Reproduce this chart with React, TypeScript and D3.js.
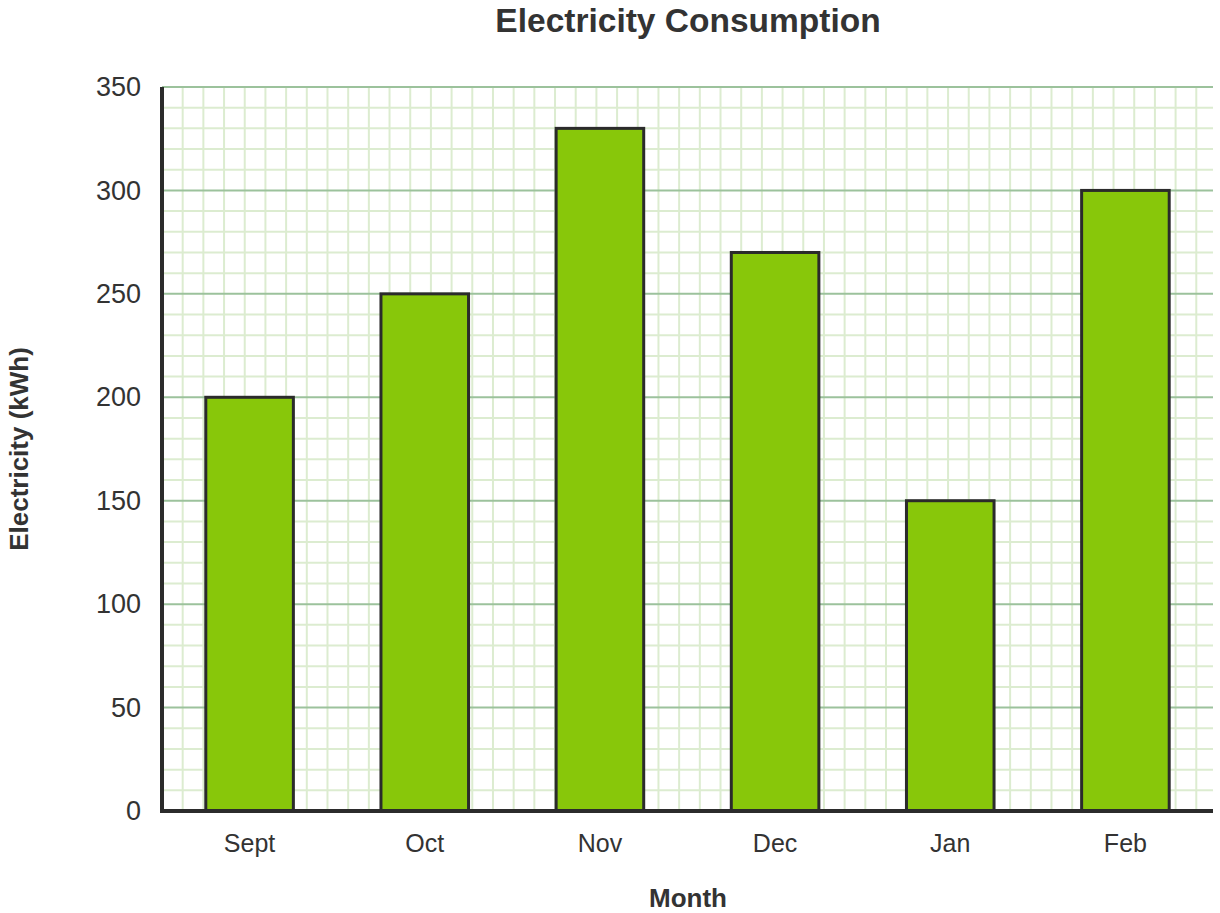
import React, { useEffect, useRef } from "react";
import * as d3 from "d3";

// data
const months: string[] = ["Sept", "Oct", "Nov", "Dec", "Jan", "Feb"];
const consumption: number[] = [200, 250, 330, 270, 150, 300];
const yTicks: number[] = [0, 50, 100, 150, 200, 250, 300, 350];

const WIDTH = 1220;
const HEIGHT = 913;
const FONT = "'Liberation Sans', Arial, Helvetica, sans-serif";

const App: React.FC = () => {
  const svgRef = useRef<SVGSVGElement | null>(null);

  useEffect(() => {
    const margin = { top: 87, right: 7, bottom: 102, left: 162 };
    const innerW = WIDTH - margin.left - margin.right;
    const innerH = HEIGHT - margin.top - margin.bottom;

    const svg = d3.select(svgRef.current);
    svg.selectAll("*").remove();
    svg.attr("width", WIDTH).attr("height", HEIGHT);

    const x = d3
      .scaleBand<string>()
      .domain(months)
      .range([0, innerW])
      .paddingInner(0.5)
      .paddingOuter(0.25);

    const y = d3.scaleLinear().domain([0, 350]).range([innerH, 0]);

    const g = svg
      .append("g")
      .attr("transform", `translate(${margin.left}, ${margin.top})`);

    // minor grid (every 10 kWh, square cells)
    const minorTicks = d3.range(0, 351, 10).filter((v) => v % 50 !== 0);
    const cell = y(0) - y(10);
    const xGrid = d3.range(cell, innerW - cell / 2, cell);

    g.append("g")
      .selectAll("line")
      .data(xGrid)
      .enter()
      .append("line")
      .attr("x1", (d) => d)
      .attr("x2", (d) => d)
      .attr("y1", 0)
      .attr("y2", innerH)
      .attr("stroke", "#dcecd0")
      .attr("stroke-width", 2);

    g.append("g")
      .selectAll("line")
      .data(minorTicks)
      .enter()
      .append("line")
      .attr("x1", 0)
      .attr("x2", innerW)
      .attr("y1", (d) => y(d))
      .attr("y2", (d) => y(d))
      .attr("stroke", "#dcecd0")
      .attr("stroke-width", 2);

    // major grid
    g.append("g")
      .selectAll("line")
      .data(yTicks.filter((v) => v > 0))
      .enter()
      .append("line")
      .attr("x1", 0)
      .attr("x2", innerW)
      .attr("y1", (d) => y(d))
      .attr("y2", (d) => y(d))
      .attr("stroke", "#9cc29c")
      .attr("stroke-width", 2);

    // bars
    g.append("g")
      .selectAll("rect")
      .data(consumption)
      .enter()
      .append("rect")
      .attr("x", (_, i) => x(months[i])!)
      .attr("y", (d) => y(d))
      .attr("width", x.bandwidth())
      .attr("height", (d) => innerH - y(d))
      .attr("fill", "#88c70a")
      .attr("stroke", "#2b2b2b")
      .attr("stroke-width", 3);

    // y axis
    const yAxis = g
      .append("g")
      .call(d3.axisLeft(y).tickValues(yTicks).tickSize(0).tickPadding(21));
    yAxis.select(".domain").remove();
    yAxis
      .selectAll("text")
      .style("font-family", FONT)
      .style("font-size", "27px")
      .style("fill", "#333");

    // x axis
    const xAxis = g
      .append("g")
      .attr("transform", `translate(0, ${innerH})`)
      .call(d3.axisBottom(x).tickSize(0).tickPadding(23));
    xAxis.select(".domain").remove();
    xAxis
      .selectAll("text")
      .style("font-family", FONT)
      .style("font-size", "25px")
      .style("fill", "#333");

    // axis lines
    g.append("line")
      .attr("x1", 0)
      .attr("x2", 0)
      .attr("y1", 0)
      .attr("y2", innerH)
      .attr("stroke", "#2b2b2b")
      .attr("stroke-width", 4);
    g.append("line")
      .attr("x1", -2)
      .attr("x2", innerW)
      .attr("y1", innerH)
      .attr("y2", innerH)
      .attr("stroke", "#2b2b2b")
      .attr("stroke-width", 4);

    // title
    svg
      .append("text")
      .attr("x", 688)
      .attr("y", 32)
      .attr("text-anchor", "middle")
      .style("font-family", FONT)
      .style("font-weight", "bold")
      .style("font-size", "33.5px")
      .style("fill", "#333")
      .text("Electricity Consumption");

    // axis titles
    svg
      .append("text")
      .attr("x", 688)
      .attr("y", 907)
      .attr("text-anchor", "middle")
      .style("font-family", FONT)
      .style("font-weight", "bold")
      .style("font-size", "26px")
      .style("fill", "#333")
      .text("Month");

    svg
      .append("text")
      .attr("transform", `translate(28, ${margin.top + innerH / 2}) rotate(-90)`)
      .attr("text-anchor", "middle")
      .style("font-family", FONT)
      .style("font-weight", "bold")
      .style("font-size", "26px")
      .style("fill", "#333")
      .text("Electricity (kWh)");
  }, []);

  return (
    <div style={{ position: "absolute", left: 0, top: 0, background: "#fff" }}>
      <svg ref={svgRef} style={{ display: "block" }}></svg>
    </div>
  );
};

export default App;
